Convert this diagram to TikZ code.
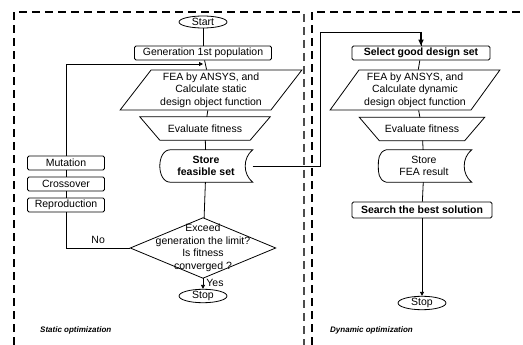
\documentclass[tikz,border=0pt]{standalone}
\usepackage{fontspec}
\setmainfont{Liberation Sans}
\usetikzlibrary{shapes.geometric,arrows.meta}
\begin{document}
\begin{tikzpicture}[x=1pt,y=-1pt,
  every node/.style={font=\fontsize{10.5}{12.5}\selectfont, inner sep=0pt, align=center},
  ln/.style={line width=0.8pt},
  shp/.style={draw, line width=0.8pt},
  term/.style={shp, ellipse, minimum width=48, minimum height=12},
  rbox/.style={shp, rounded corners=1.5pt, minimum height=14},
  para/.style={shp, trapezium, trapezium left angle=53, trapezium right angle=127, trapezium stretches=true, minimum height=40},
  trapbox/.style={minimum height=23},
  arr/.style={ln, -{Triangle[length=4pt,width=4pt]}},
  bigframe/.style={dash pattern=on 8pt off 5pt, line width=2.4pt},
  thinframe/.style={dash pattern=on 8pt off 5pt, line width=1.2pt, black!70},
  lbl/.style={font=\fontsize{8}{9}\selectfont\bfseries, anchor=west},
  storeshape/.style={minimum width=93, minimum height=32},
]
\useasboundingbox (0,0) rectangle (523,345);
% frames
\draw[bigframe] (14,345) -- (14,12) -- (304,12);
\draw[thinframe] (304,14) -- (304,345);
\draw[bigframe] (312,345) -- (312,12) -- (523,12);

% ---------- left column ----------
\node[term] (start) at (203,22) {Start};
\node[rbox, minimum width=137] (gen) at (203,53) {Generation 1st population};
\node[para, minimum width=182] (fea1) at (211,90) {FEA by ANSYS, and\\Calculate static\\design object function};
\node[trapbox, minimum width=130] (ev1) at (205,128.5) {Evaluate fitness};
\draw[ln] (ev1.north west) -- (ev1.north east) -- ([xshift=-20pt]ev1.south east)
  -- ([xshift=20pt]ev1.south west) -- cycle;
\node[storeshape] (st1) at (206,166) {\bfseries Store\\\bfseries feasible set};
\draw[ln] ([xshift=11pt]st1.north west) -- (st1.north east)
  .. controls +(-10,8) and +(-10,-8) .. (st1.south east)
  -- ([xshift=11pt]st1.south west)
  .. controls +(-14,0) and +(-14,0) .. ([xshift=11pt]st1.north west);
\node[minimum width=145, minimum height=60] (dia) at (203,248)
  {Exceed\\generation the limit?\\Is fitness\\converged ?};
\draw[ln] (dia.north) -- (dia.east) -- (dia.south) -- (dia.west) -- cycle;
\node[term] (stop1) at (203,296) {Stop};

\node[rbox, minimum width=77] (mut) at (66,163) {Mutation};
\node[rbox, minimum width=77] (cro) at (66,184) {Crossover};
\node[rbox, minimum width=77] (rep) at (66,205) {Reproduction};

\coordinate (fb) at (203,64);
\draw[ln] (start) -- (gen);
\draw[ln] (gen) -- (fea1);
\draw[ln] (fea1) -- (ev1);
\draw[ln] (ev1) -- (st1);
\draw[ln] (st1) -- (dia);
\draw[arr] (dia.south) -- node[right=3pt, pos=0.45]{Yes} (stop1);
\draw[ln] (mut) -- (cro);
\draw[ln] (cro) -- (rep);
\draw[ln] (rep.south) |- node[pos=0.75, above=4pt]{No} (dia.west);
\draw[arr] (mut.north) |- (fb);

\node[lbl] (slbl) at (40,330) {\itshape Static optimization};

% ---------- right column ----------
\node[rbox, minimum width=138, font=\fontsize{10.5}{12.5}\selectfont\bfseries] (sel) at (421,53) {Select good design set};
\node[para, minimum width=170] (fea2) at (415,90) {FEA by ANSYS, and\\Calculate dynamic\\design object function};
\node[trapbox, minimum width=125] (ev2) at (422,129) {Evaluate fitness};
\draw[ln] (ev2.north west) -- (ev2.north east) -- ([xshift=-20pt]ev2.south east)
  -- ([xshift=20pt]ev2.south west) -- cycle;
\node[storeshape, minimum width=95] (st2) at (424,166) {Store\\FEA result};
\draw[ln] ([xshift=10pt]st2.north west) -- (st2.north east)
  .. controls +(-10,8) and +(-10,-8) .. (st2.south east)
  -- ([xshift=10pt]st2.south west)
  .. controls +(-8,-2) and +(0,6) .. ([xshift=2pt]st2.west)
  .. controls +(0,-6) and +(-8,2) .. ([xshift=10pt]st2.north west);
\node[rbox, minimum width=140, minimum height=16, font=\fontsize{10.5}{12.5}\selectfont\bfseries] (srch) at (422,210) {Search the best solution};
\node[term] (stop2) at (422,303) {Stop};

\draw[ln] (sel) -- (fea2);
\draw[ln] (fea2) -- (ev2);
\draw[ln] (ev2) -- (st2);
\draw[ln] (st2) -- (srch);
\draw[arr] (srch) -- (stop2);

\coordinate (up) at (320,32);
\draw[ln] (st1.east) -| (up) -| (sel.north);
\draw[line width=1.6pt, -{Triangle[length=6pt,width=5pt]}] (sel.north |- up) -- (sel.north);

\node[lbl] (dlbl) at (330,330) {\itshape Dynamic optimization};
\end{tikzpicture}
\end{document}
